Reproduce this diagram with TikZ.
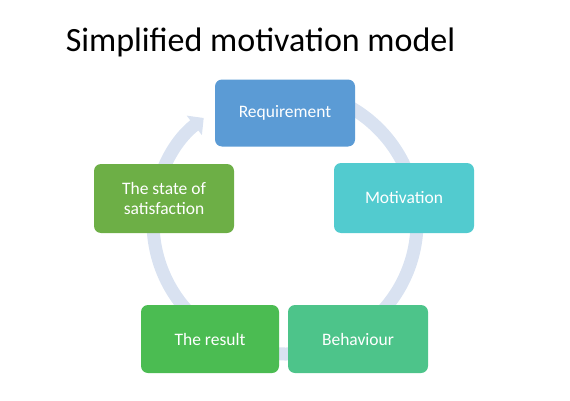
\documentclass[tikz,border=0pt]{standalone}
\usepackage{fontspec}
\setmainfont{Carlito}
\usetikzlibrary{arrows.meta}

\definecolor{ringblue}{HTML}{D9E2F1}
\definecolor{reqblue}{HTML}{5B9BD5}
\definecolor{motteal}{HTML}{52CBCF}
\definecolor{satgreen}{HTML}{6DAF46}
\definecolor{resgreen}{HTML}{4BBC52}
\definecolor{behgreen}{HTML}{4DC48A}

\tikzset{
    stagebox/.style={rounded corners=7pt, minimum width=140pt, minimum height=68pt,
        text=white, font=\fontsize{17.5}{20}\selectfont, align=center, inner sep=0pt}
}

\begin{document}
\begin{tikzpicture}[x=1pt, y=1pt]
    \useasboundingbox (0,0) rectangle (570,400);

    % Title
    \node (title) at (260.5,358) {\fontsize{34}{40}\selectfont Simplified motivation model};

    % Ring
    \draw[ringblue, line width=13pt, -{Triangle[width=24pt, length=12pt]}]
        (285,178) ++(95:132) arc[start angle=95, end angle=-232, radius=132];

    % Stages
    \node at (285,287) [stagebox, fill=reqblue, minimum height=67pt] (req) {Requirement};
    \node at (404,202) [stagebox, fill=motteal, minimum height=70pt] (mot) {Motivation};
    \node at (358,61) [stagebox, fill=behgreen] (beh) {Behaviour};
    \node at (210,61) [stagebox, fill=resgreen, minimum width=138pt] (res) {The result};
    \node at (164,201.5) [stagebox, fill=satgreen, minimum height=69pt] (sat) {The state of\\satisfaction};
\end{tikzpicture}
\end{document}
